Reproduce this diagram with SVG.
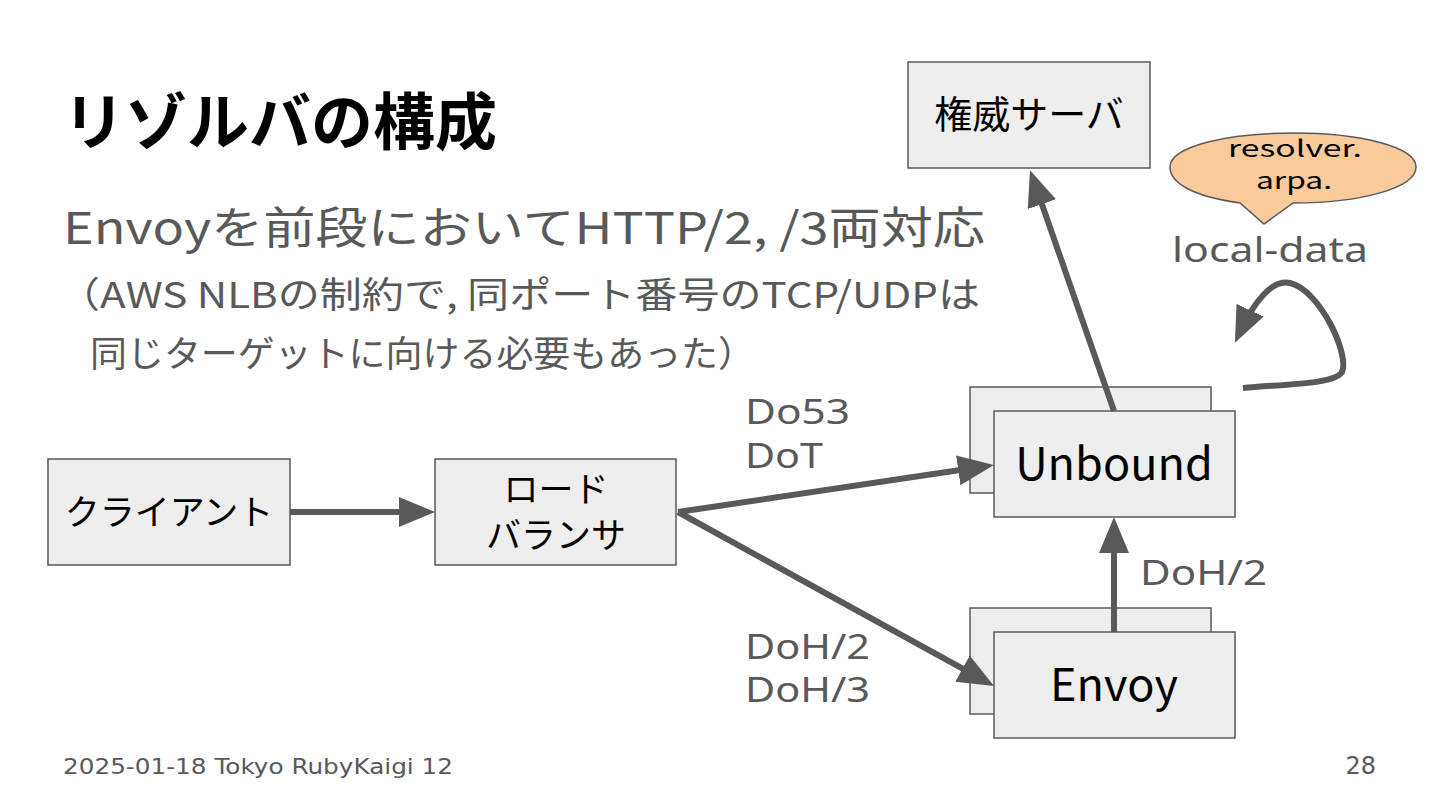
<svg xmlns="http://www.w3.org/2000/svg" width="1440" height="810" viewBox="0 0 1440 810">
<defs>
<style>
.box{fill:#eeeeee;stroke:#595959;stroke-width:1.5}
.ntx{font-family:"Noto Sans CJK JP","Noto Sans",sans-serif;fill:#000;text-anchor:middle}
.lbl{font-family:"Noto Sans","Noto Sans CJK JP",sans-serif;fill:#595959;font-size:34px}
.con{stroke:#595959;stroke-width:6;fill:none}
.hd{font-family:"Noto Sans CJK JP",sans-serif}
</style>
<marker id="ah" markerUnits="userSpaceOnUse" markerWidth="36" markerHeight="30" refX="24" refY="15" orient="auto">
<path d="M0,0 L36,15 L0,30 z" fill="#595959"/>
</marker>
</defs>
<rect width="1440" height="810" fill="#ffffff"/>
<text x="63" y="145" class="hd" font-size="62" font-weight="600" fill="#000" textLength="434" lengthAdjust="spacingAndGlyphs">リゾルバの構成</text>
<text x="63" y="244" class="hd" font-size="44" fill="#595959" textLength="922" lengthAdjust="spacingAndGlyphs">Envoyを前段においてHTTP/2, /3両対応</text>
<text x="58" y="308" class="hd" font-size="36" fill="#595959" textLength="922" lengthAdjust="spacingAndGlyphs">（AWS NLBの制約で, 同ポート番号のTCP/UDPは</text>
<text x="90" y="367" class="hd" font-size="36" fill="#595959" textLength="665" lengthAdjust="spacingAndGlyphs">同じターゲットに向ける必要もあった）</text>
<text x="63" y="774" font-family="'DejaVu Sans',sans-serif" font-size="22" fill="#595959" textLength="390" lengthAdjust="spacingAndGlyphs">2025-01-18 Tokyo RubyKaigi 12</text>
<text x="1376" y="774" font-family="'DejaVu Sans',sans-serif" font-size="24" fill="#595959" text-anchor="end">28</text>

<g id="label-do53">
<text class="lbl" x="745" y="424" textLength="105" lengthAdjust="spacingAndGlyphs">Do53</text>
<text class="lbl" x="745" y="468" textLength="78" lengthAdjust="spacingAndGlyphs">DoT</text>
</g>
<g id="label-doh23">
<text class="lbl" x="745" y="659" textLength="125" lengthAdjust="spacingAndGlyphs">DoH/2</text>
<text class="lbl" x="745" y="702" textLength="125" lengthAdjust="spacingAndGlyphs">DoH/3</text>
</g>
<g id="label-doh2">
<text class="lbl" x="1140" y="585" textLength="127" lengthAdjust="spacingAndGlyphs">DoH/2</text>
</g>
<g id="label-localdata">
<text class="lbl" x="1172" y="262" font-size="36" textLength="196" lengthAdjust="spacingAndGlyphs">local-data</text>
</g>

<g id="node-auth">
<rect class="box" x="908" y="62" width="242" height="106"/>
<text class="ntx" x="1029" y="128" font-size="38">権威サーバ</text>
</g>
<g id="node-bubble">
<path d="M1240,203 C1190,196 1170,182 1170,167 C1170,147 1225,133 1293,133 C1361,133 1416,147 1416,167 C1416,188 1361,203 1293,203 L1264,224 Z" fill="#f9cb9c" stroke="#595959" stroke-width="1.5"/>
<text class="ntx" x="1295" y="157" font-size="23" font-family="'Noto Sans',sans-serif" textLength="134" lengthAdjust="spacingAndGlyphs">resolver.</text>
<text class="ntx" x="1294" y="189" font-size="23" font-family="'Noto Sans',sans-serif" textLength="76" lengthAdjust="spacingAndGlyphs">arpa.</text>
</g>
<g id="node-client">
<rect class="box" x="48" y="459" width="242" height="106"/>
<text class="ntx" x="169" y="525" font-size="35">クライアント</text>
</g>
<g id="node-lb">
<rect class="box" x="435" y="459" width="241" height="106"/>
<text class="ntx" x="556" y="502" font-size="35">ロード</text>
<text class="ntx" x="556" y="548" font-size="35">バランサ</text>
</g>
<g id="node-unbound">
<rect class="box" x="970" y="387" width="241" height="106"/>
<rect class="box" x="994" y="411" width="241" height="106"/>
<text class="ntx" x="1114" y="480" font-size="45" font-family="'Noto Sans',sans-serif">Unbound</text>
</g>
<g id="node-envoy">
<rect class="box" x="970" y="608" width="241" height="106"/>
<rect class="box" x="994" y="632" width="241" height="106"/>
<text class="ntx" x="1114" y="701" font-size="45" font-family="'Noto Sans',sans-serif">Envoy</text>
</g>

<g id="connectors">
<line class="con" x1="290" y1="512" x2="423" y2="512" marker-end="url(#ah)"/>
<line class="con" x1="678" y1="512" x2="982" y2="466.8" marker-end="url(#ah)"/>
<line class="con" x1="678" y1="512" x2="983.5" y2="680.2" marker-end="url(#ah)"/>
<line class="con" x1="1114" y1="632" x2="1114" y2="529" marker-end="url(#ah)"/>
<line class="con" x1="1114" y1="411" x2="1034" y2="181.5" marker-end="url(#ah)"/>
<path class="con" d="M1243,388 C1290,384 1335,384 1342,372 C1350,355 1320,290 1290,283 C1272,279 1254,302 1240,332" marker-end="url(#ah)"/>
</g>
</svg>
